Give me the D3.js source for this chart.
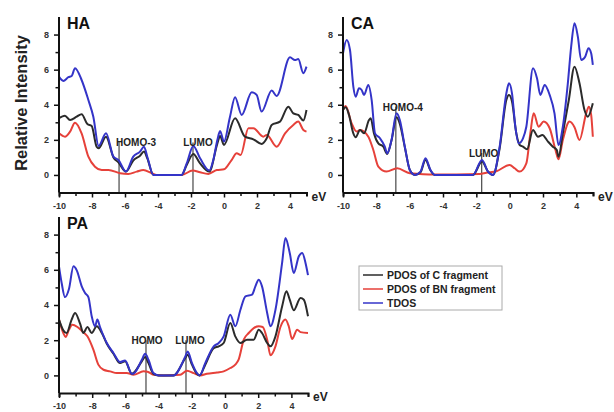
<!DOCTYPE html>
<html lang="en">
<head>
    <meta charset="UTF-8">
    <title>DOS</title>
    <script src="https://d3js.org/d3.v7.min.js"></script>
</head>
<body style="margin:0;background:#fff">

<style>
    text {
        font-family: Arial, "Liberation Sans", sans-serif;
        font-weight: bold;
    }
    .tick-label {
        font-size: 9px;
        fill: #333;
    }
</style>

<script type="text/javascript">

    // energy (eV), intensity pairs
    var haPdosC = [[-10,3.23],[-9.64,3.38],[-9.33,3.13],[-8.93,3.32],[-8.63,3.46],[-8.28,2.9],[-8.02,2.79],[-7.72,1.61],[-7.6,1.52],[-7.15,2.18],[-6.7,1.0],[-6.4,0.72],[-5.94,0.19],[-5.5,0.82],[-5.09,1.1],[-4.85,1.33],[-4.65,0.95],[-4.28,0],[-2.57,0],[-2.26,0.57],[-1.86,1.2],[-1.45,0.66],[-0.89,0.19],[-0.4,1.8],[-0.24,2.22],[0.0,1.71],[0.67,3.23],[1.27,2.18],[1.78,2.03],[2.28,1.77],[2.59,2.09],[2.89,2.85],[3.39,3.04],[3.9,3.89],[4.2,3.51],[4.5,3.42],[4.81,3.1],[5.0,3.7]];
    var haPdosBN = [[-10,2.37],[-9.64,2.18],[-9.33,2.47],[-9.03,2.98],[-8.63,2.37],[-8.22,1.04],[-7.82,0.47],[-7.41,0.28],[-7.0,0.28],[-6.3,0.1],[-5.8,0.06],[-5.29,0.19],[-4.89,0.28],[-4.38,0.1],[-4.08,0],[-2.57,0],[-1.9,0.25],[-1.45,0.15],[-0.95,0.06],[-0.44,0.28],[0.0,0.32],[0.46,0.85],[0.77,1.23],[1.01,1.14],[1.48,2.66],[1.78,2.66],[2.38,2.18],[2.59,2.28],[3.19,1.61],[3.7,2.37],[4.2,2.85],[4.5,3.04],[4.81,2.56],[5.0,2.47]];
    var haTdos = [[-10,5.6],[-9.74,5.36],[-9.43,5.57],[-9.23,5.64],[-9.03,6.08],[-8.63,5.41],[-8.22,4.27],[-7.92,3.32],[-7.6,1.65],[-7.15,2.37],[-6.7,1.04],[-6.4,0.85],[-5.94,0.19],[-5.5,1.04],[-5.09,1.33],[-4.85,1.61],[-4.65,1.04],[-4.28,0],[-2.57,0],[-2.26,0.66],[-1.86,1.65],[-1.45,0.95],[-0.89,0.25],[-0.65,0.85],[-0.4,2.0],[-0.24,2.5],[0.0,1.9],[0.36,3.3],[0.67,4.43],[1.07,3.42],[1.68,4.71],[1.98,4.56],[2.28,3.61],[2.89,4.81],[3.19,4.5],[4.0,6.7],[4.3,6.55],[4.5,6.6],[4.81,5.8],[5.0,6.17]];

    var caPdosC = [[-10,3.7],[-9.84,3.86],[-9.64,3.42],[-9.38,2.37],[-9.24,2.15],[-8.98,2.56],[-8.74,2.37],[-8.44,3.13],[-8.34,3.23],[-8.14,2.37],[-7.88,1.8],[-7.58,1.61],[-7.35,1.2],[-7.09,1.96],[-6.79,3.29],[-6.59,2.91],[-6.29,1.58],[-5.99,0.28],[-5.69,0],[-5.35,0.15],[-5.05,0.85],[-4.75,0.25],[-4.49,0],[-2.2,0],[-1.66,0.76],[-1.3,0.19],[-1.0,0],[-0.6,1.52],[-0.2,4.27],[-0.04,4.56],[0.14,4.18],[0.4,2.37],[0.6,1.71],[0.8,1.61],[1.04,1.46],[1.4,2.56],[1.7,2.18],[1.96,2.28],[2.3,1.9],[2.59,1.61],[2.83,1.42],[2.93,1.04],[3.19,2.37],[3.55,4.27],[3.89,6.17],[4.19,5.22],[4.49,3.7],[4.69,3.32],[4.99,4.08]];
    var caPdosBN = [[-10,3.7],[-9.84,3.93],[-9.48,2.94],[-9.18,2.47],[-8.98,2.56],[-8.48,2.18],[-8.18,1.42],[-7.88,0.47],[-7.39,0.19],[-6.75,0.38],[-5.99,0.1],[-5.39,0.06],[-4.59,0.02],[-1.8,0.06],[-1.4,0.13],[-0.8,0.21],[0.0,0.57],[0.3,0.38],[0.6,0.19],[1.0,0.66],[1.24,2.37],[1.44,3.51],[1.74,2.75],[2.04,3.04],[2.4,2.66],[2.75,1.42],[2.93,0.89],[3.19,1.99],[3.59,3.04],[3.89,2.72],[4.19,1.99],[4.59,3.51],[4.75,3.89],[4.89,3.42],[4.99,2.18]];
    var caTdos = [[-10,6.93],[-9.78,7.69],[-9.58,7.12],[-9.38,5.03],[-9.24,4.46],[-9.04,4.94],[-8.88,4.84],[-8.74,4.56],[-8.48,5.13],[-8.28,4.27],[-8.08,2.37],[-7.78,2.09],[-7.49,1.61],[-7.35,1.23],[-7.09,1.99],[-6.79,3.51],[-6.59,3.13],[-6.29,1.61],[-5.99,0.28],[-5.69,0],[-5.35,0.19],[-5.05,0.95],[-4.75,0.28],[-4.49,0],[-2.2,0],[-1.66,0.85],[-1.3,0.19],[-1.0,0],[-0.6,1.61],[-0.2,4.65],[-0.04,5.22],[0.14,4.65],[0.34,2.75],[0.54,1.8],[0.8,2.09],[1.0,2.75],[1.4,6.08],[1.64,5.51],[1.84,4.56],[2.1,5.13],[2.4,4.56],[2.69,3.51],[2.93,1.71],[3.19,2.75],[3.49,5.22],[3.69,7.31],[3.89,8.64],[4.09,7.88],[4.29,6.55],[4.53,6.74],[4.73,7.22],[4.89,6.93],[4.99,6.27]];

    var paPdosC = [[-10,3.17],[-9.74,2.56],[-9.54,2.41],[-9.24,3.17],[-9.03,3.55],[-8.73,2.94],[-8.53,2.41],[-8.29,2.75],[-8.03,2.41],[-7.73,2.79],[-7.42,2.41],[-7.12,1.8],[-6.72,1.23],[-6.32,0.7],[-6.02,0.8],[-5.61,0.09],[-5.01,0.8],[-4.81,1.04],[-4.61,0.7],[-4.31,0.09],[-4.0,0],[-3.1,0],[-2.39,0.99],[-2.25,1.18],[-1.99,0.61],[-1.69,0.09],[-1.53,0],[-1.19,0.61],[-0.68,1.55],[-0.38,1.65],[-0.08,1.84],[0.32,2.98],[0.62,2.22],[0.93,1.84],[1.33,2.03],[1.73,2.03],[2.03,2.6],[2.23,2.41],[2.54,1.84],[2.74,1.65],[3.04,2.22],[3.44,3.92],[3.7,4.78],[3.9,4.3],[4.14,3.7],[4.55,4.4],[4.75,4.3],[5.0,3.36]];
    var paPdosBN = [[-10,3.17],[-9.74,2.41],[-9.6,2.18],[-9.4,2.6],[-9.2,2.88],[-8.89,2.75],[-8.59,2.5],[-8.29,2.22],[-7.93,1.46],[-7.63,0.61],[-7.32,0.32],[-6.92,0.23],[-6.52,0.13],[-5.92,0.13],[-5.51,0.04],[-4.91,0.23],[-4.67,0.21],[-4.31,0.04],[-3.7,0],[-2.7,0.04],[-2.29,0.27],[-1.89,0.13],[-1.49,0],[-1.09,0.09],[-0.48,0.17],[-0.08,0.23],[0.32,0.42],[0.62,0.61],[0.82,0.89],[1.13,2.03],[1.43,2.41],[1.73,2.69],[2.03,2.79],[2.27,2.75],[2.54,2.03],[2.74,1.14],[3.04,1.65],[3.34,2.75],[3.64,3.17],[3.84,2.79],[4.04,2.07],[4.35,2.6],[4.55,2.46],[5.0,2.41]];
    var paTdos = [[-10,6.2],[-9.84,5.25],[-9.64,4.45],[-9.4,4.91],[-9.13,6.2],[-8.93,5.97],[-8.63,5.06],[-8.43,4.68],[-8.23,4.45],[-8.03,3.36],[-7.83,2.79],[-7.69,3.17],[-7.53,2.75],[-7.12,1.84],[-6.72,1.27],[-6.32,0.76],[-6.02,0.85],[-5.61,0.09],[-5.47,0.13],[-5.01,0.89],[-4.81,1.23],[-4.61,0.89],[-4.31,0.13],[-4.0,0],[-3.1,0],[-2.39,1.08],[-2.25,1.36],[-1.99,0.7],[-1.69,0.13],[-1.53,0],[-1.19,0.7],[-0.68,1.65],[-0.38,1.84],[-0.08,2.22],[0.32,3.45],[0.62,2.79],[0.93,3.73],[1.23,4.49],[1.63,4.59],[1.83,5.06],[2.03,5.44],[2.23,5.06],[2.54,3.55],[2.74,2.79],[3.04,3.73],[3.44,6.39],[3.64,7.81],[3.9,6.96],[4.14,5.82],[4.45,6.77],[4.65,6.96],[4.85,6.39],[5.0,5.7]];

    // marker: [energy, top intensity, label]
    var haMarkers = [[-6.36, 1.9, "HOMO-3"], [-1.88, 1.85, "LUMO"]];
    var caMarkers = [[-6.83, 3.9, "HOMO-4"], [-1.68, 1.25, "LUMO"]];
    var paMarkers = [[-4.76, 2.0, "HOMO"], [-2.35, 2.0, "LUMO"]];

    var panelNames = ["HA", "CA", "PA"];
    var seriesNames = ["PDOS of C fragment", "PDOS of BN fragment", "TDOS"];
    var seriesColors = ["#2b2b2b", "#e6413a", "#3434c8"];
    var xTickValues = [-10, -8, -6, -4, -2, 0, 2, 4];
    var yTickValues = [0, 2, 4, 6, 8];

    var width = 614, height = 412;

    var svg = d3.select("body").append("svg")
            .attr("width", width)
            .attr("height", height);

    var panels = [
        {name: panelNames[0], series: [haPdosC, haPdosBN, haTdos], markers: haMarkers,
            x0: 59, x1: 306.5, y0: 192.5, y1: 17, labelDx: [17, 5]},
        {name: panelNames[1], series: [caPdosC, caPdosBN, caTdos], markers: caMarkers,
            x0: 343, x1: 593, y0: 192.5, y1: 17, labelDx: [7, 2]},
        {name: panelNames[2], series: [paPdosC, paPdosBN, paTdos], markers: paMarkers,
            x0: 59, x1: 308, y0: 393, y1: 217, labelDx: [1, 4]}
    ];

    panels.forEach(function(p) {
        var xScale = d3.scaleLinear().domain([-10, 5]).range([p.x0, p.x1]);
        var yScale = d3.scaleLinear().domain([-1, 9]).range([p.y0, p.y1]);
        var g = svg.append("g");

        // marker lines
        p.markers.forEach(function(m, i) {
            g.append("line")
                .attr("x1", xScale(m[0])).attr("x2", xScale(m[0]))
                .attr("y1", yScale(m[1])).attr("y2", yScale(-1))
                .attr("stroke", "#555")
                .attr("stroke-width", 1.3);
        });

        var line = d3.line()
                .x(function(d) { return xScale(d[0]); })
                .y(function(d) { return yScale(d[1]); })
                .curve(d3.curveMonotoneX);

        // draw order: BN, C, total
        [1, 0, 2].forEach(function(k) {
            g.append("path")
                .datum(p.series[k])
                .attr("d", line)
                .attr("fill", "none")
                .attr("stroke", seriesColors[k])
                .attr("stroke-width", 2)
                .attr("stroke-linejoin", "round");
        });

        // marker labels
        p.markers.forEach(function(m, i) {
            g.append("text")
                .attr("x", xScale(m[0]) + p.labelDx[i])
                .attr("y", yScale(m[1]) + 4)
                .attr("text-anchor", "middle")
                .style("font-size", "10px")
                .style("fill", "#222")
                .text(m[2]);
        });

        // x axis
        var xAxis = d3.axisBottom(xScale)
                .tickValues(d3.range(-10, 6))
                .tickSize(4)
                .tickFormat(function(d) { return xTickValues.indexOf(d) >= 0 ? d : ""; });
        var gx = g.append("g")
                .attr("transform", "translate(0," + p.y0 + ")")
                .call(xAxis);
        gx.select(".domain").attr("stroke", "#111").attr("stroke-width", 2);
        gx.selectAll(".tick line").attr("stroke", "#111").attr("stroke-width", 1.5)
                .attr("y2", function(d) { return d % 2 === 0 ? 5 : 3.5; });
        gx.selectAll(".tick text").attr("class", "tick-label").attr("dy", "1.05em")
                .text(function(d) { return xTickValues.indexOf(d) >= 0 ? String(d).replace("\u2212", "-") : ""; });

        // y axis
        var yAxis = d3.axisLeft(yScale)
                .tickValues(d3.range(0, 9))
                .tickSize(4)
                .tickFormat(function(d) { return yTickValues.indexOf(d) >= 0 ? d : ""; });
        var gy = g.append("g")
                .attr("transform", "translate(" + p.x0 + ",0)")
                .call(yAxis);
        gy.select(".domain").attr("stroke", "#111").attr("stroke-width", 2)
                .attr("d", "M0," + p.y0 + "V" + p.y1);
        gy.selectAll(".tick line").attr("stroke", "#111").attr("stroke-width", 1.5)
                .attr("x2", function(d) { return d % 2 === 0 ? -5 : -3.5; });
        gy.selectAll(".tick text").attr("class", "tick-label").attr("x", -10);

        // x end label and panel name
        g.append("text")
            .attr("x", p.x1 + 5)
            .attr("y", p.y0 + 8)
            .style("font-size", "12px")
            .style("fill", "#222")
            .text("eV");

        g.append("text")
            .attr("x", p.x0 + 8)
            .attr("y", p.y1 + 12)
            .style("font-size", "16px")
            .style("fill", "#111")
            .text(p.name);
    });

    // y title
    svg.append("text")
        .attr("transform", "translate(27,103) rotate(-90)")
        .attr("text-anchor", "middle")
        .style("font-size", "16.5px")
        .style("fill", "#222")
        .text("Relative Intensity");

    // legend
    var legend = svg.append("g").attr("transform", "translate(359,266)");
    legend.append("rect")
        .attr("width", 143).attr("height", 44)
        .attr("fill", "#fff")
        .attr("stroke", "#aaa")
        .attr("stroke-width", 1);
    seriesNames.forEach(function(name, i) {
        legend.append("line")
            .attr("x1", 4).attr("x2", 24)
            .attr("y1", 9 + i * 14).attr("y2", 9 + i * 14)
            .attr("stroke", seriesColors[i])
            .attr("stroke-width", 1.5);
        legend.append("text")
            .attr("x", 28)
            .attr("y", 12.5 + i * 14)
            .style("font-size", "10.5px")
            .style("fill", "#222")
            .text(name);
    });

</script>

</body>
</html>
